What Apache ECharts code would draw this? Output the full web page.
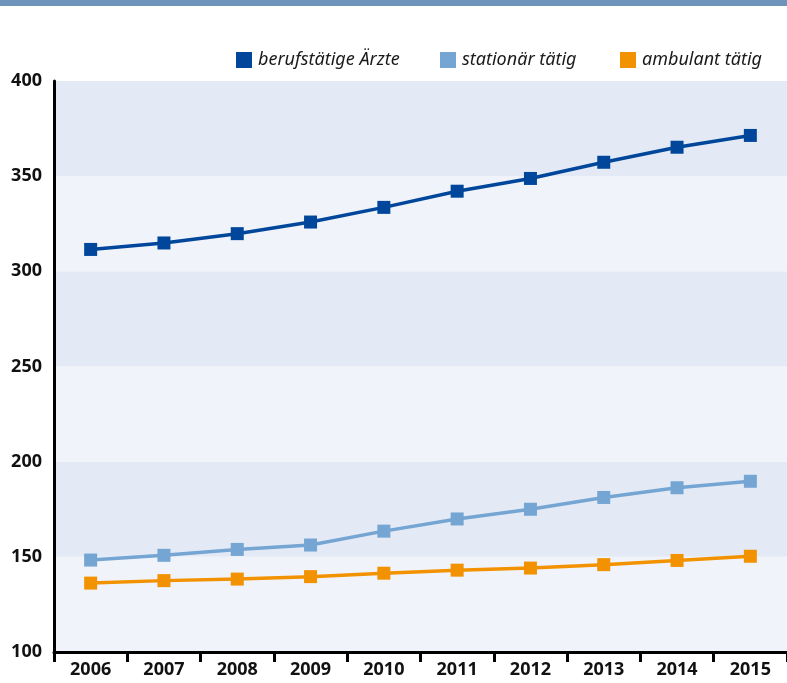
<!DOCTYPE html>
<html>
<head>
<meta charset="utf-8">
<script src="https://cdn.jsdelivr.net/npm/echarts@6/dist/echarts.min.js"></script>
<style>
  html, body { margin: 0; padding: 0; background: #fff; }
  #chart { width: 787px; height: 683px; }
</style>
</head>
<body>
<div id="chart"></div>
<script>
// Ärzte in Tausend, 2006 - 2015
var years = ['2006', '2007', '2008', '2009', '2010', '2011', '2012', '2013', '2014', '2015'];
var berufstaetig = [311.5, 314.9, 319.8, 325.9, 333.6, 342.1, 348.8, 357.3, 365.2, 371.4];
var stationaer = [148.3, 150.8, 153.9, 156.2, 163.5, 169.9, 175.0, 181.2, 186.3, 189.7];
var ambulant = [136.2, 137.5, 138.3, 139.6, 141.4, 143.0, 144.1, 145.9, 148.1, 150.3];
var yTicks = [100, 150, 200, 250, 300, 350, 400];

var names = ['berufstätige Ärzte', 'stationär tätig', 'ambulant tätig'];
var colors = ['#00479b', '#74a5d3', '#f39200'];
var legendLeft = [236, 440, 620];
var fontFamily = '"Noto Sans", "Liberation Sans", sans-serif';

function makeSeries(name, values, color) {
  return {
    name: name,
    type: 'line',
    data: values,
    symbol: 'rect',
    symbolSize: 13,
    color: color,
    lineStyle: { width: 3.5, color: color },
    itemStyle: { color: color },
    z: 3
  };
}

var option = {
  animation: false,
  textStyle: { fontFamily: fontFamily },
  graphic: [{
    type: 'rect',
    shape: { x: 0, y: 0, width: 787, height: 6 },
    style: { fill: '#6e94bb' }
  }],
  legend: names.map(function (n, i) {
    return {
      data: [n],
      left: legendLeft[i],
      top: 51,
      padding: 0,
      icon: 'rect',
      itemWidth: 16,
      itemHeight: 16,
      itemGap: 0,
      textStyle: {
        fontFamily: fontFamily,
        fontStyle: 'italic',
        fontSize: 18,
        color: '#1a1a1a',
        padding: [0, 0, 0, 1]
      }
    };
  }),
  grid: { left: 54, top: 81, right: -2, bottom: 31, containLabel: false },
  xAxis: {
    type: 'category',
    data: years,
    boundaryGap: true,
    axisLine: { show: true, lineStyle: { color: '#000', width: 3 } },
    axisTick: { show: true, length: 10, lineStyle: { color: '#000', width: 3 } },
    axisLabel: {
      fontSize: 18,
      fontWeight: 'bold',
      color: '#111',
      margin: 9,
      fontFamily: fontFamily
    },
    splitLine: { show: false }
  },
  yAxis: {
    type: 'value',
    min: yTicks[0],
    max: yTicks[yTicks.length - 1],
    interval: 50,
    axisLine: { show: true, lineStyle: { color: '#000', width: 3 } },
    axisTick: { show: false },
    axisLabel: {
      fontSize: 18,
      fontWeight: 'bold',
      color: '#111',
      margin: 12,
      fontFamily: fontFamily
    },
    splitLine: { show: false },
    splitArea: {
      show: true,
      areaStyle: { color: ['#f0f3fa', '#e4eaf5'] }
    }
  },
  series: [
    makeSeries(names[0], berufstaetig, colors[0]),
    makeSeries(names[1], stationaer, colors[1]),
    makeSeries(names[2], ambulant, colors[2])
  ]
};

echarts.init(document.getElementById('chart')).setOption(option);
</script>
</body>
</html>
